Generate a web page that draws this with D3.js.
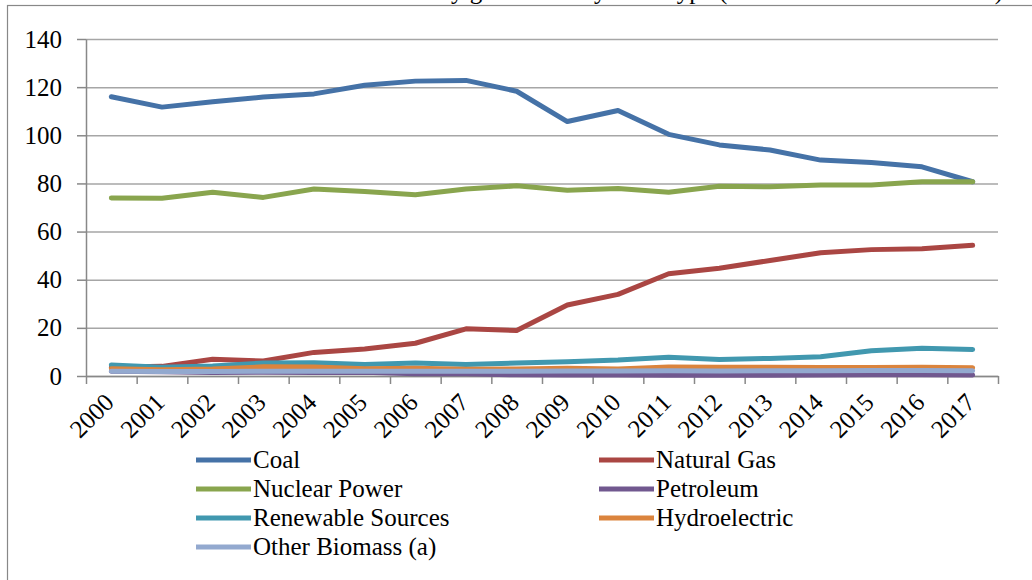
<!DOCTYPE html>
<html>
<head>
<meta charset="utf-8">
<script src="https://cdn.jsdelivr.net/npm/d3@7"></script>
<style>
  body { margin: 0; background: #fff; }
  text { font-family: 'Liberation Serif', 'Times New Roman', serif; fill: #000; }
</style>
</head>
<body>
<div id="chart"></div>
<script>
// Years on the x axis
const years = ['2000', '2001', '2002', '2003', '2004', '2005', '2006', '2007', '2008',
  '2009', '2010', '2011', '2012', '2013', '2014', '2015', '2016', '2017'];

// Series values
const coal = [116, 111.7, 113.9, 115.9, 117.2, 120.8, 122.5, 122.8, 118.3,
  105.7, 110.3, 100.4, 96, 93.9, 89.7, 88.7, 86.9, 80.7];
const naturalGas = [3.6, 4.0, 7.0, 6.2, 9.8, 11.2, 13.6, 19.6, 18.9,
  29.5, 33.9, 42.5, 44.8, 48, 51.2, 52.5, 52.9, 54.3];
const nuclear = [73.9, 73.8, 76.3, 74.2, 77.7, 76.6, 75.3, 77.7, 79,
  77.2, 77.9, 76.3, 78.8, 78.6, 79.3, 79.3, 80.7, 80.7];
const petroleum = [2.0, 1.8, 1.5, 1.6, 1.5, 1.6, 0.9, 0.9, 0.5,
  0.4, 0.4, 0.3, 0.3, 0.3, 0.4, 0.5, 0.5, 0.4];
const renewable = [4.6, 3.6, 4.2, 5.4, 5.5, 4.8, 5.4, 4.8, 5.4,
  5.9, 6.6, 7.8, 6.9, 7.3, 8.0, 10.5, 11.5, 11.0];
const hydro = [3.0, 2.6, 2.9, 3.8, 3.7, 3.0, 3.2, 2.8, 2.9,
  3.2, 2.9, 3.7, 3.6, 3.6, 3.5, 3.5, 3.6, 3.4];
const otherBiomass = [2.0, 1.9, 1.9, 2.0, 2.0, 2.0, 2.0, 2.0, 2.0,
  2.1, 2.1, 2.2, 2.1, 2.2, 2.2, 2.3, 2.3, 2.2];

const seriesNames = ['Coal', 'Natural Gas', 'Nuclear Power', 'Petroleum',
  'Renewable Sources', 'Hydroelectric', 'Other Biomass (a)'];
const seriesValues = [coal, naturalGas, nuclear, petroleum, renewable, hydro, otherBiomass];
const seriesColors = ['#4572A7', '#AA4643', '#89A54E', '#71588F', '#4198AF', '#DB843D', '#93A9CF'];

const yTicks = [0, 20, 40, 60, 80, 100, 120, 140];

const width = 1032;
const height = 580;
const plot = { left: 86, right: 998, top: 39, bottom: 376 };
const fontSize = 25;

const svg = d3.select('#chart')
  .append('svg')
  .attr('width', width)
  .attr('height', height);

// Outer frame of the chart object (only top and left edges show)
svg.append('rect')
  .attr('x', 7.5)
  .attr('y', 5.5)
  .attr('width', 1100)
  .attr('height', 700)
  .attr('fill', 'none')
  .attr('stroke', '#888')
  .attr('stroke-width', 1.2);

// Title, mostly cut off above the picture (as in the original crop)
svg.append('text')
  .attr('x', 1003)
  .attr('y', -1)
  .attr('text-anchor', 'end')
  .attr('font-size', fontSize)
  .text('Electricity generation by Fuel Type (Billions of Kilowatt Hours)');

// Scales
const x = d3.scaleBand().domain(years).range([plot.left, plot.right]);
const xEdge = d3.scaleLinear().domain([0, years.length]).range([plot.left, plot.right]);
const y = d3.scaleLinear().domain([0, 140]).range([plot.bottom, plot.top]);

// Horizontal gridlines
svg.append('g')
  .attr('class', 'grid')
  .attr('transform', `translate(${plot.left},0)`)
  .call(d3.axisRight(y).tickValues(yTicks).tickSize(plot.right - plot.left).tickFormat(''))
  .call((g) => g.select('.domain').remove())
  .call((g) => g.selectAll('line').attr('stroke', '#a6a6a6').attr('stroke-width', 1.5));

// Y axis
svg.append('g')
  .attr('transform', `translate(${plot.left},0)`)
  .call(d3.axisLeft(y).tickValues(yTicks).tickSizeInner(9).tickSizeOuter(0).tickPadding(15))
  .call((g) => g.select('.domain').attr('stroke', '#888').attr('stroke-width', 1.5))
  .call((g) => g.selectAll('line').attr('stroke', '#888').attr('stroke-width', 1.5))
  .call((g) => g.selectAll('text')
    .attr('font-size', fontSize)
    .attr('fill', '#000'));

// X axis tick marks sit between the categories
svg.append('g')
  .attr('transform', `translate(0,${plot.bottom})`)
  .call(d3.axisBottom(xEdge).tickValues(d3.range(years.length + 1)).tickSizeInner(8).tickSizeOuter(0).tickFormat(''))
  .call((g) => g.select('.domain').attr('stroke', '#888').attr('stroke-width', 1.5))
  .call((g) => g.selectAll('line').attr('stroke', '#888').attr('stroke-width', 1.5));

// X axis labels rotated 45 degrees
svg.append('g')
  .selectAll('text')
  .data(years)
  .enter()
  .append('text')
  .attr('transform', (d) => `translate(${x(d) + x.bandwidth() / 2 + 4},404) rotate(-45)`)
  .attr('text-anchor', 'end')
  .attr('font-size', fontSize)
  .text((d) => d);

// Lines
const line = d3.line()
  .x((d, i) => x(years[i]) + x.bandwidth() / 2)
  .y((d) => y(d));

svg.append('g')
  .selectAll('path')
  .data(seriesValues)
  .enter()
  .append('path')
  .attr('d', (d) => line(d))
  .attr('fill', 'none')
  .attr('stroke', (d, i) => seriesColors[i])
  .attr('stroke-width', 5)
  .attr('stroke-linejoin', 'round')
  .attr('stroke-linecap', 'round');

// Legend in two columns
const legend = svg.append('g');
const legendItems = legend.selectAll('g')
  .data(seriesNames)
  .enter()
  .append('g')
  .attr('transform', (d, i) => `translate(${i % 2 === 0 ? 196 : 599},${460 + Math.floor(i / 2) * 29})`);

legendItems.append('line')
  .attr('x1', 0)
  .attr('x2', 55)
  .attr('stroke', (d, i) => seriesColors[i])
  .attr('stroke-width', 5);

legendItems.append('text')
  .attr('x', 57)
  .attr('dy', '0.33em')
  .attr('font-size', fontSize)
  .text((d) => d);
</script>
</body>
</html>
